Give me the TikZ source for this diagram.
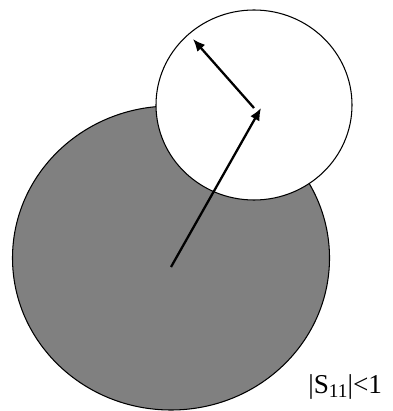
\documentclass[tikz,border=0pt]{standalone}
\usepackage{fontspec}
\setmainfont{Liberation Serif}
\usepackage{tikz}
\usetikzlibrary{arrows.meta, shapes.geometric}

\begin{document}
\begin{tikzpicture}[x=0.02cm, y=-0.02cm,
  region/.style={draw=black, line width=0.6pt, ellipse, inner sep=0pt},
  radius arrow/.style={line width=1.3pt, -{Latex[length=7pt, width=6pt]}}]
  \useasboundingbox (0,0) rectangle (392,411);
  \begin{scope}
    \clip (0,0) rectangle (392,411);
    % unstable region and stability circle
    \node[region, fill=gray, minimum width=317*0.02cm, minimum height=304*0.02cm] (big) at (171,258) {};
  \end{scope}
  \node[region, fill=white, minimum width=196*0.02cm, minimum height=190*0.02cm] (small) at (254,105) {};
  \coordinate (o1) at (171,267);
  \coordinate (o2) at (261,108);
  \coordinate (o3) at (254,108);
  \coordinate (rim) at (193,39);
  \draw[radius arrow] (o1) -- (o2);
  \draw[radius arrow] (o3) -- (rim);
  \node[font=\fontsize{15.5}{17}\selectfont, anchor=base west, inner sep=0pt] (lbl) at (308,393)
    {\textbar S\raisebox{-0.35ex}{\fontsize{11}{12}\selectfont 11}\textbar<1};
\end{tikzpicture}
\end{document}
